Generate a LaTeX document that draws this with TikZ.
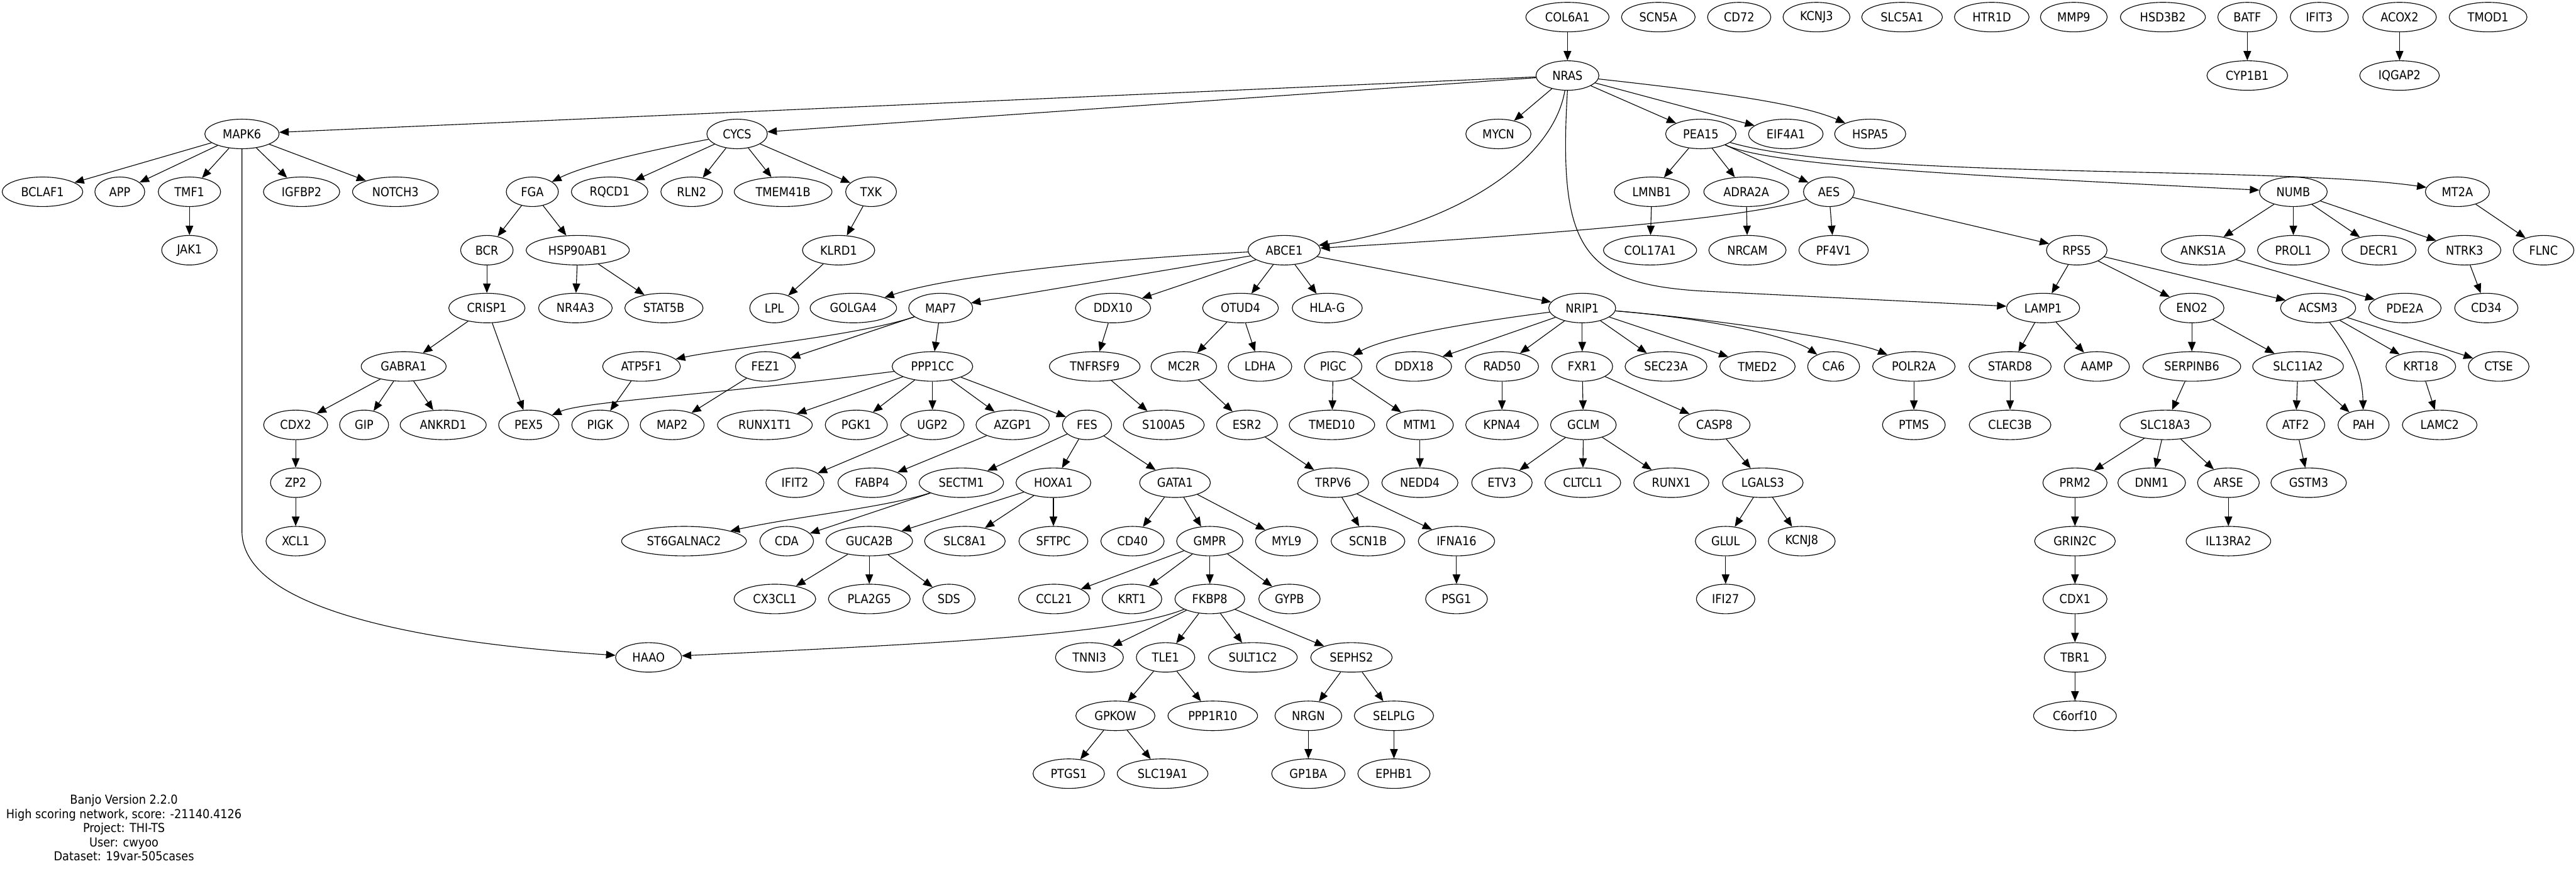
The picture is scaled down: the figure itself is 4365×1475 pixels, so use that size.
\documentclass[tikz,border=0pt]{standalone}
\usepackage{fontspec}
\newfontfamily\genefont{DejaVu Sans Condensed}
\usetikzlibrary{arrows.meta,shapes.geometric}
\tikzset{
  gene/.style={ellipse,draw,line width=0.6pt,inner xsep=6pt,inner ysep=2pt,
    minimum width=41.5pt,minimum height=25pt,
    font=\genefont\fontsize{10.5}{12}\selectfont},
  edge/.style={-{Triangle[length=8pt,width=6.5pt]},line width=0.6pt}
}

\begin{document}
\begin{tikzpicture}[x=0.5pt,y=-0.5pt]
  \useasboundingbox (0,0) rectangle (4365,1475);
  % ranks, top to bottom
  \foreach \x/\n in {2656/COL6A1,2810/SCN5A,2947/CD72,3078/KCNJ3,3223/SLC5A1,
      3375/HTR1D,3514/MMP9,3665/HSD3B2,3808/BATF,3930/IFIT3,4066/ACOX2,4216/TMOD1}
    \node[gene] (\n) at (\x,29) {\n};
  \foreach \x/\n in {2656/NRAS,3808/CYP1B1,4066/IQGAP2}
    \node[gene] (\n) at (\x,128) {\n};
  \foreach \x/\n in {410/MAPK6,1249/CYCS,2539/MYCN,2882/PEA15,3026/EIF4A1,3169/HSPA5}
    \node[gene] (\n) at (\x,227) {\n};
  \foreach \x/\n in {72/BCLAF1,203/APP,321/TMF1,511/IGFBP2,670/NOTCH3,902/FGA,
      1033/RQCD1,1172/RLN2,1327/TMEM41B,1476/TXK,2799/LMNB1,2959/ADRA2A,3099/AES,
      3886/NUMB,4164/MT2A}
    \node[gene] (\n) at (\x,325) {\n};
  \foreach \x/\n in {321/JAK1,825/BCR,979/HSP90AB1,1421/KLRD1,2176/ABCE1,
      2796/COL17A1,2961/NRCAM,3107/PF4V1,3519/RPS5,3733/ANKS1A,3886/PROL1,
      4031/DECR1,4176/NTRK3,4310/FLNC}
    \node[gene] (\n) at (\x,424) {\n};
  \foreach \x/\n in {825/CRISP1,975/NR4A3,1125/STAT5B,1312/LPL,1446/GOLGA4,
      1594/MAP7,1886/DDX10,2102/OTUD4,2249/HLA-G,2681/NRIP1,3462/LAMP1,3714/ENO2,
      3928/ACSM3,4075/PDE2A,4213/CD34}
    \node[gene] (\n) at (\x,522) {\n};
  \foreach \x/\n in {684/GABRA1,1087/ATP5F1,1297/FEZ1,1580/PPP1CC,1855/TNFRSF9,
      2006/MC2R,2135/LDHA,2259/PIGC,2396/DDX18,2545/RAD50,2681/FXR1,2823/SEC23A,
      2978/TMED2,3107/CA6,3243/POLR2A,3406/STARD8,3553/AAMP,3714/SERPINB6,
      3894/SLC11A2,4102/KRT18,4234/CTSE}
    \node[gene] (\n) at (\x,621) {\n};
  \foreach \x/\n in {501/CDX2,617/GIP,751/ANKRD1,896/PEX5,1017/PIGK,1139/MAP2,
      1296/RUNX1T1,1451/PGK1,1580/UGP2,1716/AZGP1,1842/FES,1972/S100A5,2113/ESR2,
      2257/TMED10,2406/MTM1,2545/KPNA4,2683/GCLM,2905/CASP8,3243/PTMS,3406/CLEC3B,
      3669/SLC18A3,3890/ATF2,4005/PAH,4134/LAMC2}
    \node[gene] (\n) at (\x,720) {\n};
  \foreach \x/\n in {501/ZP2,1347/IFIT2,1478/FABP4,1629/SECTM1,1785/HOXA1,
      1991/GATA1,2259/TRPV6,2406/NEDD4,2545/ETV3,2682/CLTCL1,2832/RUNX1,
      2987/LGALS3,3516/PRM2,3646/DNM1,3776/ARSE,3912/GSTM3}
    \node[gene] (\n) at (\x,818) {\n};
  \foreach \x/\n in {501/XCL1,1159/ST6GALNAC2,1333/CDA,1473/GUCA2B,1635/SLC8A1,
      1785/SFTPC,1919/CD40,2050/GMPR,2180/MYL9,2318/SCN1B,2468/IFNA16,2924/GLUL,
      3053/KCNJ8,3516/GRIN2C,3776/IL13RA2}
    \node[gene] (\n) at (\x,917) {\n};
  \foreach \x/\n in {1313/CX3CL1,1473/PLA2G5,1608/SDS,1786/CCL21,1918/KRT1,
      2050/FKBP8,2185/GYPB,2468/PSG1,2924/IFI27,3516/CDX1}
    \node[gene] (\n) at (\x,1015) {\n};
  \foreach \x/\n in {1099/HAAO,1846/TNNI3,1975/TLE1,2123/SULT1C2,2290/SEPHS2,3516/TBR1}
    \node[gene] (\n) at (\x,1114) {\n};
  \foreach \x/\n in {1890/GPKOW,2055/PPP1R10,2217/NRGN,2362/SELPLG,3516/C6orf10}
    \node[gene] (\n) at (\x,1213) {\n};
  \foreach \x/\n in {1811/PTGS1,1970/SLC19A1,2217/GP1BA,2362/EPHB1}
    \node[gene] (\n) at (\x,1311) {\n};

  % straight edges
  \foreach \a/\b in {COL6A1/NRAS,BATF/CYP1B1,ACOX2/IQGAP2,
      NRAS/MAPK6,NRAS/CYCS,NRAS/MYCN,NRAS/PEA15,NRAS/EIF4A1,
      MAPK6/BCLAF1,MAPK6/APP,MAPK6/TMF1,MAPK6/IGFBP2,MAPK6/NOTCH3,TMF1/JAK1,
      CYCS/RQCD1,CYCS/RLN2,CYCS/TMEM41B,CYCS/TXK,
      FGA/BCR,FGA/HSP90AB1,BCR/CRISP1,HSP90AB1/NR4A3,HSP90AB1/STAT5B,
      TXK/KLRD1,KLRD1/LPL,
      CRISP1/GABRA1,CRISP1/PEX5,GABRA1/CDX2,GABRA1/GIP,GABRA1/ANKRD1,
      CDX2/ZP2,ZP2/XCL1,
      ABCE1/MAP7,ABCE1/DDX10,ABCE1/OTUD4,ABCE1/HLA-G,ABCE1/NRIP1,
      MAP7/FEZ1,MAP7/PPP1CC,ATP5F1/PIGK,FEZ1/MAP2,
      PPP1CC/RUNX1T1,PPP1CC/PGK1,PPP1CC/UGP2,PPP1CC/AZGP1,PPP1CC/FES,
      UGP2/IFIT2,AZGP1/FABP4,FES/SECTM1,FES/HOXA1,FES/GATA1,
      SECTM1/CDA,HOXA1/GUCA2B,HOXA1/SLC8A1,HOXA1/SFTPC,
      GUCA2B/CX3CL1,GUCA2B/PLA2G5,GUCA2B/SDS,
      GATA1/CD40,GATA1/GMPR,GATA1/MYL9,
      GMPR/CCL21,GMPR/KRT1,GMPR/FKBP8,GMPR/GYPB,
      FKBP8/TNNI3,FKBP8/TLE1,FKBP8/SULT1C2,FKBP8/SEPHS2,
      TLE1/GPKOW,TLE1/PPP1R10,GPKOW/PTGS1,GPKOW/SLC19A1,
      SEPHS2/NRGN,SEPHS2/SELPLG,NRGN/GP1BA,SELPLG/EPHB1,
      DDX10/TNFRSF9,TNFRSF9/S100A5,OTUD4/MC2R,OTUD4/LDHA,MC2R/ESR2,ESR2/TRPV6,
      TRPV6/SCN1B,TRPV6/IFNA16,IFNA16/PSG1,
      NRIP1/DDX18,NRIP1/RAD50,NRIP1/FXR1,NRIP1/SEC23A,NRIP1/TMED2,
      PIGC/TMED10,PIGC/MTM1,MTM1/NEDD4,RAD50/KPNA4,
      FXR1/GCLM,FXR1/CASP8,GCLM/ETV3,GCLM/CLTCL1,GCLM/RUNX1,
      CASP8/LGALS3,LGALS3/GLUL,LGALS3/KCNJ8,GLUL/IFI27,POLR2A/PTMS,
      PEA15/LMNB1,PEA15/ADRA2A,PEA15/AES,LMNB1/COL17A1,ADRA2A/NRCAM,
      AES/PF4V1,AES/RPS5,
      NUMB/ANKS1A,NUMB/PROL1,NUMB/DECR1,NUMB/NTRK3,ANKS1A/PDE2A,NTRK3/CD34,
      MT2A/FLNC,
      RPS5/LAMP1,RPS5/ENO2,RPS5/ACSM3,LAMP1/STARD8,LAMP1/AAMP,STARD8/CLEC3B,
      ENO2/SERPINB6,ENO2/SLC11A2,SERPINB6/SLC18A3,
      SLC18A3/PRM2,SLC18A3/DNM1,SLC18A3/ARSE,PRM2/GRIN2C,GRIN2C/CDX1,
      CDX1/TBR1,TBR1/C6orf10,ARSE/IL13RA2,
      SLC11A2/ATF2,SLC11A2/PAH,ATF2/GSTM3,
      ACSM3/KRT18,ACSM3/CTSE,KRT18/LAMC2}
    \draw[edge] (\a) -- (\b);

  % curved edges
  \draw[edge] (NRAS) .. controls (2900,155) and (3050,175) .. (HSPA5);
  \draw[edge] (NRAS) .. controls (2630,280) and (2450,385) .. (ABCE1);
  \draw[edge] (NRAS.south) .. controls (2640,420) and (2680,480) .. (2880,493)
    -- (LAMP1);
  \draw[edge] (MAPK6.south) -- (410,900) .. controls (410,1050) and (800,1095)
    .. (HAAO);
  \draw[edge] (FKBP8) .. controls (1900,1075) and (1600,1090) .. (HAAO);
  \draw[edge] (CYCS) .. controls (1100,255) and (990,280) .. (FGA);
  \draw[edge] (ABCE1) .. controls (1850,440) and (1600,470) .. (GOLGA4);
  \draw[edge] (MAP7) .. controls (1450,570) and (1230,590) .. (ATP5F1);
  \draw[edge] (PPP1CC) .. controls (1200,670) and (990,680) .. (PEX5);
  \draw[edge] (SECTM1) .. controls (1500,860) and (1350,875) .. (ST6GALNAC2);
  \draw[edge] (PEA15) .. controls (3000,280) and (3300,296) .. (NUMB);
  \draw[edge] (PEA15) .. controls (3150,305) and (3850,280) .. (MT2A);
  \draw[edge] (AES) .. controls (2950,375) and (2500,405) .. (ABCE1);
  \draw[edge] (NRIP1) .. controls (2500,545) and (2350,570) .. (PIGC);
  \draw[edge] (NRIP1) .. controls (2950,545) and (3050,580) .. (CA6);
  \draw[edge] (NRIP1) .. controls (2950,545) and (3150,580) .. (POLR2A);
  \draw[edge] (ACSM3) .. controls (3990,600) and (4003,640) .. (PAH);

  \node[font=\genefont\fontsize{10.5}{12}\selectfont,align=center] (banjo)
    at (210,1403) {Banjo Version 2.2.0\\High scoring network, score: -21140.4126\\
    Project: THI-TS\\User: cwyoo\\Dataset: 19var-505cases};
\end{tikzpicture}
\end{document}
